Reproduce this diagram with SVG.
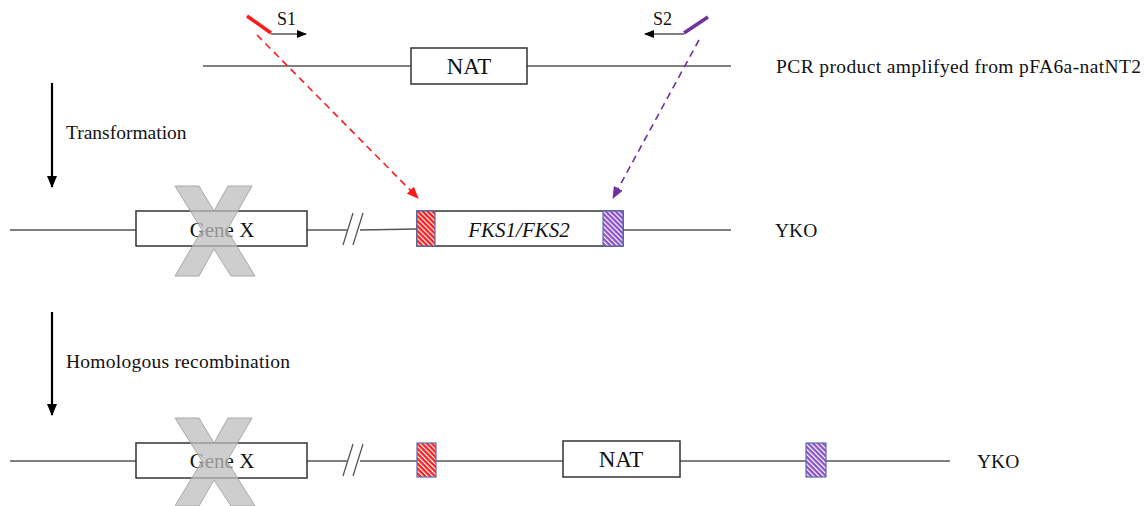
<svg xmlns="http://www.w3.org/2000/svg" width="1144" height="506" viewBox="0 0 1144 506">
<style>
.ln{stroke:#555;stroke-width:1.3;fill:none}
.box{fill:#fff;stroke:#333;stroke-width:1.5}
.t{font-family:"Liberation Serif",serif;fill:#111}
.lab{font-size:19.5px}
.big{font-size:21px}
.nat{font-size:23px}
.xm{fill:#bdbdbd;fill-opacity:0.75;stroke:#a8a8a8;stroke-width:1}
.hb{stroke:#5a6ab0;stroke-width:1.2}
</style>
<defs>
<pattern id="hr" width="3.5" height="3.5" patternUnits="userSpaceOnUse" patternTransform="rotate(-45)">
<rect width="3.5" height="3.5" fill="#ff1a1a"/>
<rect width="1.2" height="3.5" fill="#fff"/>
</pattern>
<pattern id="hp" width="3.5" height="3.5" patternUnits="userSpaceOnUse" patternTransform="rotate(-45)">
<rect width="3.5" height="3.5" fill="#8a4ec8"/>
<rect width="1.2" height="3.5" fill="#fff"/>
</pattern>
<marker id="ab" markerWidth="10" markerHeight="8" refX="9" refY="4" orient="auto" markerUnits="userSpaceOnUse">
<path d="M0,0 L10,4 L0,8 z" fill="#000"/>
</marker>
<marker id="ar" markerWidth="12" markerHeight="10" refX="11" refY="5" orient="auto" markerUnits="userSpaceOnUse">
<path d="M0,0 L12,5 L0,10 z" fill="#ff1a1a"/>
</marker>
<marker id="ap" markerWidth="12" markerHeight="10" refX="11" refY="5" orient="auto" markerUnits="userSpaceOnUse">
<path d="M0,0 L12,5 L0,10 z" fill="#7030a0"/>
</marker>
<marker id="ak" markerWidth="12" markerHeight="10" refX="11" refY="5" orient="auto" markerUnits="userSpaceOnUse">
<path d="M0,0 L12,5 L0,10 z" fill="#000"/>
</marker>
</defs>

<g id="pcr-product">
<line class="ln" x1="203" y1="66" x2="411" y2="66"/>
<line class="ln" x1="527" y1="66" x2="731" y2="66"/>
<rect class="box" x="411" y="48" width="116" height="36"/>
<text class="t nat" x="469" y="74" text-anchor="middle">NAT</text>
<text class="t lab" x="776" y="73" textLength="365" lengthAdjust="spacing">PCR product amplifyed  from  pFA6a-natNT2</text>
</g>

<g id="primer-s1">
<line x1="247" y1="16" x2="271" y2="33" stroke="#ff1a1a" stroke-width="3.5"/>
<line x1="271" y1="34" x2="306" y2="34" stroke="#000" stroke-width="1" marker-end="url(#ab)"/>
<text class="t" font-size="18" x="277" y="25">S1</text>
</g>

<g id="primer-s2">
<line x1="684" y1="33" x2="708" y2="17" stroke="#7030a0" stroke-width="3.5"/>
<line x1="684" y1="34" x2="645" y2="34" stroke="#000" stroke-width="1" marker-end="url(#ab)"/>
<text class="t" font-size="18" x="653" y="25">S2</text>
</g>

<g id="step-transformation">
<line x1="52" y1="83" x2="52" y2="187" stroke="#000" stroke-width="2.2" marker-end="url(#ak)"/>
<text class="t lab" x="66" y="139">Transformation</text>
</g>

<g id="yko-row">
<line class="ln" x1="10" y1="230" x2="136" y2="230"/>
<line class="ln" x1="307" y1="230" x2="347" y2="230"/>
<line class="ln" x1="360" y1="230" x2="417" y2="229"/>
<line class="ln" x1="343" y1="245" x2="353" y2="213"/>
<line class="ln" x1="353" y1="245" x2="363" y2="213"/>
<line class="ln" x1="623" y1="230" x2="731" y2="230"/>
<rect class="box" x="136" y="211" width="171" height="35"/>
<text class="t big" x="222" y="237" text-anchor="middle">Gene X</text>
<rect class="box" x="417" y="211" width="206" height="35"/>
<rect class="hb" x="417" y="211" width="18" height="35" fill="url(#hr)"/>
<rect class="hb" x="603" y="211" width="20" height="35" fill="url(#hp)"/>
<text class="t big" x="519" y="237" text-anchor="middle" font-style="italic">FKS1/FKS2</text>
<text class="t lab" x="775" y="237">YKO</text>
<polygon class="xm" points="175,186 199,186 214,211 228,186 252,186 227,230 255,276 231,276 214,249 199,276 175,276 202,230"/>
</g>

<g id="step-recombination">
<line x1="52" y1="312" x2="52" y2="415" stroke="#000" stroke-width="2.2" marker-end="url(#ak)"/>
<text class="t lab" x="66" y="368" textLength="224" lengthAdjust="spacing">Homologous  recombination</text>
</g>

<g id="result-row">
<line class="ln" x1="10" y1="461" x2="347" y2="461"/>
<line class="ln" x1="360" y1="461" x2="950" y2="461"/>
<line class="ln" x1="343" y1="476" x2="353" y2="444"/>
<line class="ln" x1="353" y1="476" x2="363" y2="444"/>
<rect class="box" x="136" y="443" width="171" height="35"/>
<text class="t big" x="222" y="468" text-anchor="middle">Gene X</text>
<rect class="hb" x="417" y="443" width="19" height="34" fill="url(#hr)"/>
<rect class="box" x="563" y="441" width="117" height="36"/>
<text class="t nat" x="621" y="467" text-anchor="middle">NAT</text>
<rect class="hb" x="806" y="443" width="20" height="34" fill="url(#hp)"/>
<text class="t lab" x="977" y="468">YKO</text>
<polygon class="xm" points="175,418 199,418 214,443 228,418 252,418 227,461 255,506 231,506 214,480 199,506 175,506 202,461"/>
</g>

<g id="connectors">
<line x1="257" y1="35" x2="418" y2="198" stroke="#ff1a1a" stroke-width="1.6" stroke-dasharray="7,5" marker-end="url(#ar)"/>
<line x1="699" y1="40" x2="613" y2="198" stroke="#7030a0" stroke-width="1.6" stroke-dasharray="7,5" marker-end="url(#ap)"/>
</g>
</svg>
